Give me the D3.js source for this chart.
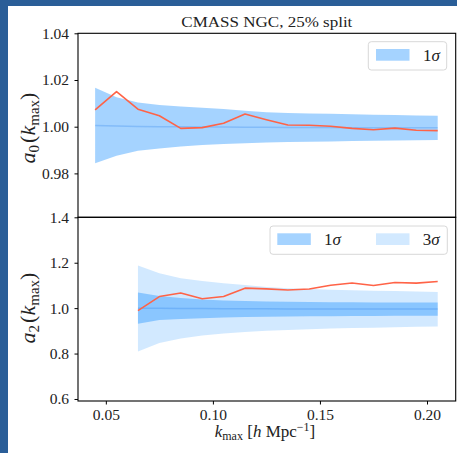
<!DOCTYPE html>
<html>
<head>
<meta charset="utf-8">
<script src="https://cdn.jsdelivr.net/npm/d3@7"></script>
<style>
  html, body { margin: 0; padding: 0; background: #2a5e98; }
  svg { display: block; }
  text { font-family: "Liberation Serif", "DejaVu Serif", serif; fill: #222; }
</style>
</head>
<body>
<svg id="chart" width="457" height="453"></svg>
<script>
// k_max grid for each panel
const kTop = [0.045, 0.055, 0.065, 0.075, 0.085, 0.095, 0.105, 0.115, 0.125, 0.135, 0.145, 0.155, 0.165, 0.175, 0.185, 0.195, 0.205];
const kBot = [0.065, 0.075, 0.085, 0.095, 0.105, 0.115, 0.125, 0.135, 0.145, 0.155, 0.165, 0.175, 0.185, 0.195, 0.205];

// a0 measured values and 1-sigma envelope from mocks
const a0Data  = [1.0072, 1.0150, 1.0075, 1.0047, 0.9993, 0.9996, 1.0015, 1.0054, 1.0030, 1.0007, 1.0006, 1.0002, 0.9993, 0.9987, 0.9994, 0.9985, 0.9983];
const a0Mean  = [1.0005, 1.0003, 1.0001, 1.0000, 1.0000, 0.9999, 0.9999, 0.9998, 0.9998, 0.9997, 0.9997, 0.9997, 0.9996, 0.9996, 0.9996, 0.9996, 0.9995];
const a0Up1   = [1.0167, 1.0126, 1.0104, 1.0093, 1.0087, 1.0081, 1.0076, 1.0068, 1.0062, 1.0059, 1.0057, 1.0055, 1.0053, 1.0051, 1.0050, 1.0048, 1.0047];
const a0Lo1   = [0.9843, 0.9876, 0.9897, 0.9907, 0.9915, 0.9922, 0.9926, 0.9929, 0.9932, 0.9934, 0.9936, 0.9937, 0.9939, 0.9940, 0.9941, 0.9942, 0.9943];

// a2 measured values, 1-sigma and 3-sigma envelopes
const a2Data  = [0.989, 1.051, 1.067, 1.041, 1.051, 1.088, 1.085, 1.080, 1.084, 1.101, 1.111, 1.100, 1.113, 1.110, 1.117];
const a2Mean  = [0.999, 0.999, 0.998, 0.998, 0.997, 0.997, 0.997, 0.996, 0.996, 0.996, 0.996, 0.996, 0.996, 0.996, 0.996];
const a2Up1   = [1.069, 1.054, 1.045, 1.038, 1.034, 1.031, 1.029, 1.028, 1.027, 1.026, 1.026, 1.025, 1.025, 1.025, 1.025];
const a2Lo1   = [0.931, 0.948, 0.952, 0.956, 0.959, 0.961, 0.962, 0.963, 0.964, 0.964, 0.965, 0.965, 0.966, 0.966, 0.966];
const a2Up3   = [1.188, 1.154, 1.132, 1.119, 1.110, 1.102, 1.093, 1.088, 1.084, 1.081, 1.079, 1.077, 1.075, 1.073, 1.071];
const a2Lo3   = [0.809, 0.846, 0.866, 0.879, 0.888, 0.895, 0.900, 0.904, 0.907, 0.910, 0.912, 0.914, 0.916, 0.918, 0.919];

// axis ticks
const xTicks    = [0.05, 0.10, 0.15, 0.20];
const yTicksTop = [0.98, 1.00, 1.02, 1.04];
const yTicksBot = [0.6, 0.8, 1.0, 1.2, 1.4];

const titleText = "CMASS NGC, 25% split";

const C_RED = "#ff6347";
const C_1S  = "rgba(30,144,255,0.40)";
const C_3S  = "rgba(30,144,255,0.20)";
const C_MID = "rgba(30,120,230,0.25)";

const svg = d3.select("#chart");
// white canvas inside the dark frame
svg.append("rect").attr("x", 8).attr("y", 6).attr("width", 449).attr("height", 447).attr("fill", "#fff");

const L = 78, R = 455.7, T = 33.3, MID = 217.3, B = 401;

const x = d3.scaleLinear().domain([0.037, 0.2134]).range([L, R]);
const yTop = d3.scaleLinear().domain([0.9612, 1.04]).range([MID, T]);
const yBot = d3.scaleLinear().domain([0.5911, 1.4]).range([B, MID]);

function band(g, ks, lo, hi, y, fill) {
  const area = d3.area().x((d, i) => x(ks[i])).y0((d, i) => y(lo[i])).y1((d, i) => y(hi[i]));
  g.append("path").datum(ks).attr("d", area).attr("fill", fill);
}
function line(g, ks, vals, y, stroke, w) {
  const ln = d3.line().x((d, i) => x(ks[i])).y((d, i) => y(vals[i]));
  g.append("path").datum(ks).attr("d", ln).attr("fill", "none")
    .attr("stroke", stroke).attr("stroke-width", w).attr("stroke-linejoin", "round");
}

// ---- top panel: a0 ----
const gTop = svg.append("g");
band(gTop, kTop, a0Lo1, a0Up1, yTop, C_1S);
line(gTop, kTop, a0Mean, yTop, C_MID, 1.5);
line(gTop, kTop, a0Data, yTop, C_RED, 1.6);

// ---- bottom panel: a2 ----
const gBot = svg.append("g");
band(gBot, kBot, a2Lo3, a2Up3, yBot, C_3S);
band(gBot, kBot, a2Lo1, a2Up1, yBot, C_1S);
line(gBot, kBot, a2Mean, yBot, C_MID, 1.5);
line(gBot, kBot, a2Data, yBot, C_RED, 1.6);

// ---- axes ----
function styleAxis(g) {
  g.select(".domain").remove();
  g.selectAll(".tick line").attr("stroke", "#000").attr("stroke-width", 1);
  g.selectAll(".tick text").attr("font-size", 15.5).attr("font-family", "Liberation Serif, serif").attr("fill", "#222");
}
svg.append("g").attr("transform", `translate(${L},0)`)
  .call(d3.axisLeft(yTop).tickValues(yTicksTop).tickFormat(d3.format(".2f")).tickSize(3.5).tickPadding(5.5))
  .call(styleAxis);
svg.append("g").attr("transform", `translate(${L},0)`)
  .call(d3.axisLeft(yBot).tickValues(yTicksBot).tickFormat(d3.format(".1f")).tickSize(3.5).tickPadding(5.5))
  .call(styleAxis);
svg.append("g").attr("transform", `translate(0,${B})`)
  .call(d3.axisBottom(x).tickValues(xTicks).tickFormat(d3.format(".2f")).tickSize(3.5).tickPadding(4.5))
  .call(styleAxis);

// panel frames
[[T, MID], [MID, B]].forEach(([a, b]) => {
  svg.append("rect").attr("x", L).attr("y", a).attr("width", R - L).attr("height", b - a)
    .attr("fill", "none").attr("stroke", "#000").attr("stroke-width", 1.1);
});

// title
svg.append("text").attr("x", (L + R) / 2).attr("y", 27).attr("text-anchor", "middle")
  .attr("font-size", 15).attr("textLength", 171).attr("lengthAdjust", "spacingAndGlyphs")
  .text(titleText);

// y labels
function yLabel(cx, cy, sub) {
  const t = svg.append("text").attr("transform", `translate(${cx},${cy}) rotate(-90)`)
    .attr("text-anchor", "middle").attr("font-size", 22);
  t.append("tspan").attr("font-style", "italic").text("a");
  t.append("tspan").attr("font-size", 15).attr("dy", 4).text(sub);
  t.append("tspan").attr("dy", -4).attr("dx", 2).text("(");
  t.append("tspan").attr("font-style", "italic").text("k");
  t.append("tspan").attr("font-size", 15).attr("dy", 4).text("max");
  t.append("tspan").attr("dy", -4).text(")");
}
yLabel(35, 128, "0");
yLabel(35, 308, "2");

// x label
const xl = svg.append("text").attr("x", 265).attr("y", 437).attr("text-anchor", "middle").attr("font-size", 17);
xl.append("tspan").attr("font-style", "italic").text("k");
xl.append("tspan").attr("font-size", 12).attr("dy", 3).text("max");
xl.append("tspan").attr("dy", -3).text(" [");
xl.append("tspan").attr("font-style", "italic").text("h");
xl.append("tspan").text(" Mpc");
xl.append("tspan").attr("font-size", 12).attr("dy", -6).text("\u22121");
xl.append("tspan").attr("dy", 6).text("]");

// legends
function legend(bx, by, bw, items) {
  const g = svg.append("g");
  g.append("rect").attr("x", bx).attr("y", by).attr("width", bw).attr("height", 28.3).attr("rx", 3)
    .attr("fill", "rgba(255,255,255,0.8)").attr("stroke", "#d8d8d8").attr("stroke-width", 1);
  items.forEach(it => {
    g.append("rect").attr("x", it.px).attr("y", by + 7.3).attr("width", 33.5).attr("height", 11.7).attr("fill", it.fill);
    const t = g.append("text").attr("x", it.tx).attr("y", by + 19.3).attr("font-size", 17);
    t.append("tspan").text(it.n);
    t.append("tspan").attr("font-style", "italic").text("\u03c3");
  });
}
legend(368.3, 41.7, 78.4, [{ px: 376, tx: 423, n: "1", fill: C_1S }]);
legend(270, 226, 177.3, [
  { px: 277.3, tx: 324, n: "1", fill: C_1S },
  { px: 376, tx: 422.7, n: "3", fill: C_3S }
]);
</script>
</body>
</html>
